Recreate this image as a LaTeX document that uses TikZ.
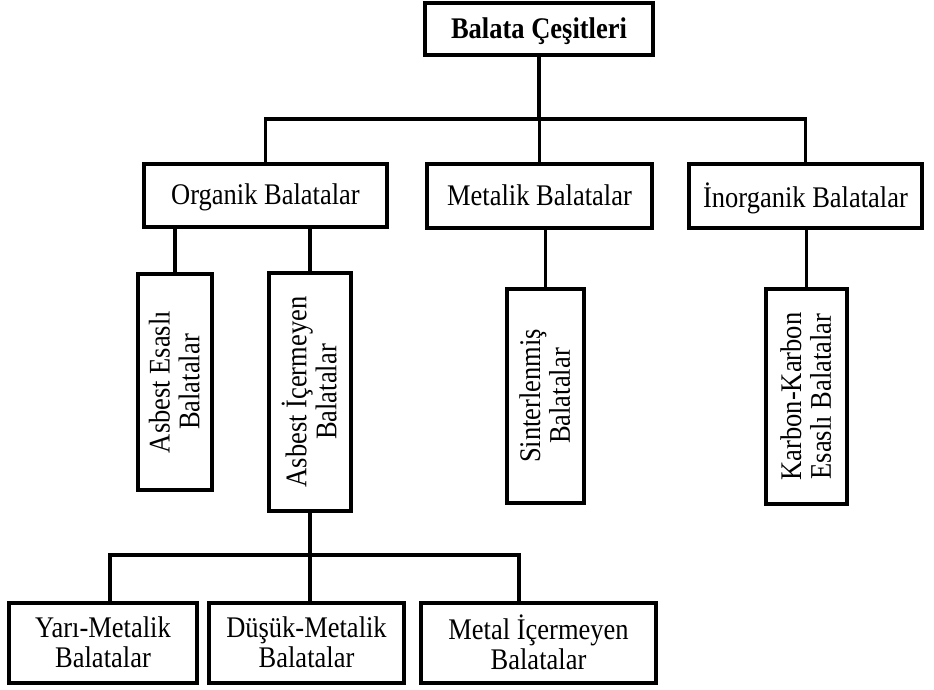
\documentclass[tikz,border=0pt]{standalone}
\usepackage{fontspec}
\setmainfont{Liberation Serif}
\usepackage{graphicx}
\newcommand{\tx}[1]{\raisebox{-3.5pt}[\height][\depth]{\scalebox{1}[1.13]{\begin{tabular}{@{}c@{}}#1\end{tabular}}}}
\newcommand{\vtext}[1]{\rotatebox{90}{\tx{#1}}}
\begin{document}
\begin{tikzpicture}[x=1pt,y=-1pt,
  box/.style={draw=black, line width=3.8pt, fill=white, inner sep=0pt, align=center,
    font=\fontsize{26.5}{26.5}\selectfont},
  conn/.style={draw=black, line width=3.2pt}]
\useasboundingbox[fill=white] (0,0) rectangle (934,689);
% top
\node[box, minimum width=228pt, minimum height=52pt, font=\fontsize{26.5}{26.5}\selectfont\bfseries] (top) at (539,29) {\tx{Balata Çeşitleri}};
% level 1
\node[box, minimum width=243pt, minimum height=63pt] (org) at (265.5,195.5) {\tx{Organik Balatalar}};
\node[box, minimum width=225pt, minimum height=64pt] (met) at (539.5,196) {\tx{Metalik Balatalar}};
\node[box, minimum width=233pt, minimum height=64pt] (ino) at (805.5,196) {\tx{İnorganik Balatalar}};
% level 2 (vertical text)
\node[box, minimum width=74pt, minimum height=216pt] (ae) at (175,382) {\vtext{Asbest Esaslı\\Balatalar}};
\node[box, minimum width=82pt, minimum height=238pt] (ai) at (310,392) {\vtext{Asbest İçermeyen\\Balatalar}};
\node[box, minimum width=77pt, minimum height=214pt] (sin) at (545.5,396) {\vtext{Sinterlenmiş\\Balatalar}};
\node[box, minimum width=81pt, minimum height=215pt] (kar) at (806.5,396.5) {\vtext{Karbon-Karbon\\Esaslı Balatalar}};
% level 3
\node[box, minimum width=188pt, minimum height=80pt] (yari) at (103,643) {\tx{Yarı-Metalik\\Balatalar}};
\node[box, minimum width=195pt, minimum height=80pt] (dus) at (306.5,643) {\tx{Düşük-Metalik\\Balatalar}};
\node[box, minimum width=235pt, minimum height=80pt] (mi) at (538.5,643) {\tx{Metal İçermeyen\\Balatalar}};
% top bus
\coordinate (b1) at (539,119);
\draw[conn] (top.south) -- (top.south |- b1);
\draw[conn] (org.north) -- (org.north |- b1) -- (ino.north |- b1) -- (ino.north);
\draw[conn] (met.north |- b1) -- (met.north);
% level 1 to 2
\draw[conn] (ae.north) -- (ae.north |- org.south);
\draw[conn] (ai.north) -- (ai.north |- org.south);
\draw[conn] (sin.north) -- (sin.north |- met.south);
\draw[conn] (kar.north) -- (kar.north |- ino.south);
% bottom bus
\coordinate (bl) at (110,555);
\coordinate (br) at (519,555);
\draw[conn] (ai.south) -- (ai.south |- dus.north);
\draw[conn] (bl |- yari.north) -- (bl) -- (br) -- (br |- mi.north);
\end{tikzpicture}
\end{document}
